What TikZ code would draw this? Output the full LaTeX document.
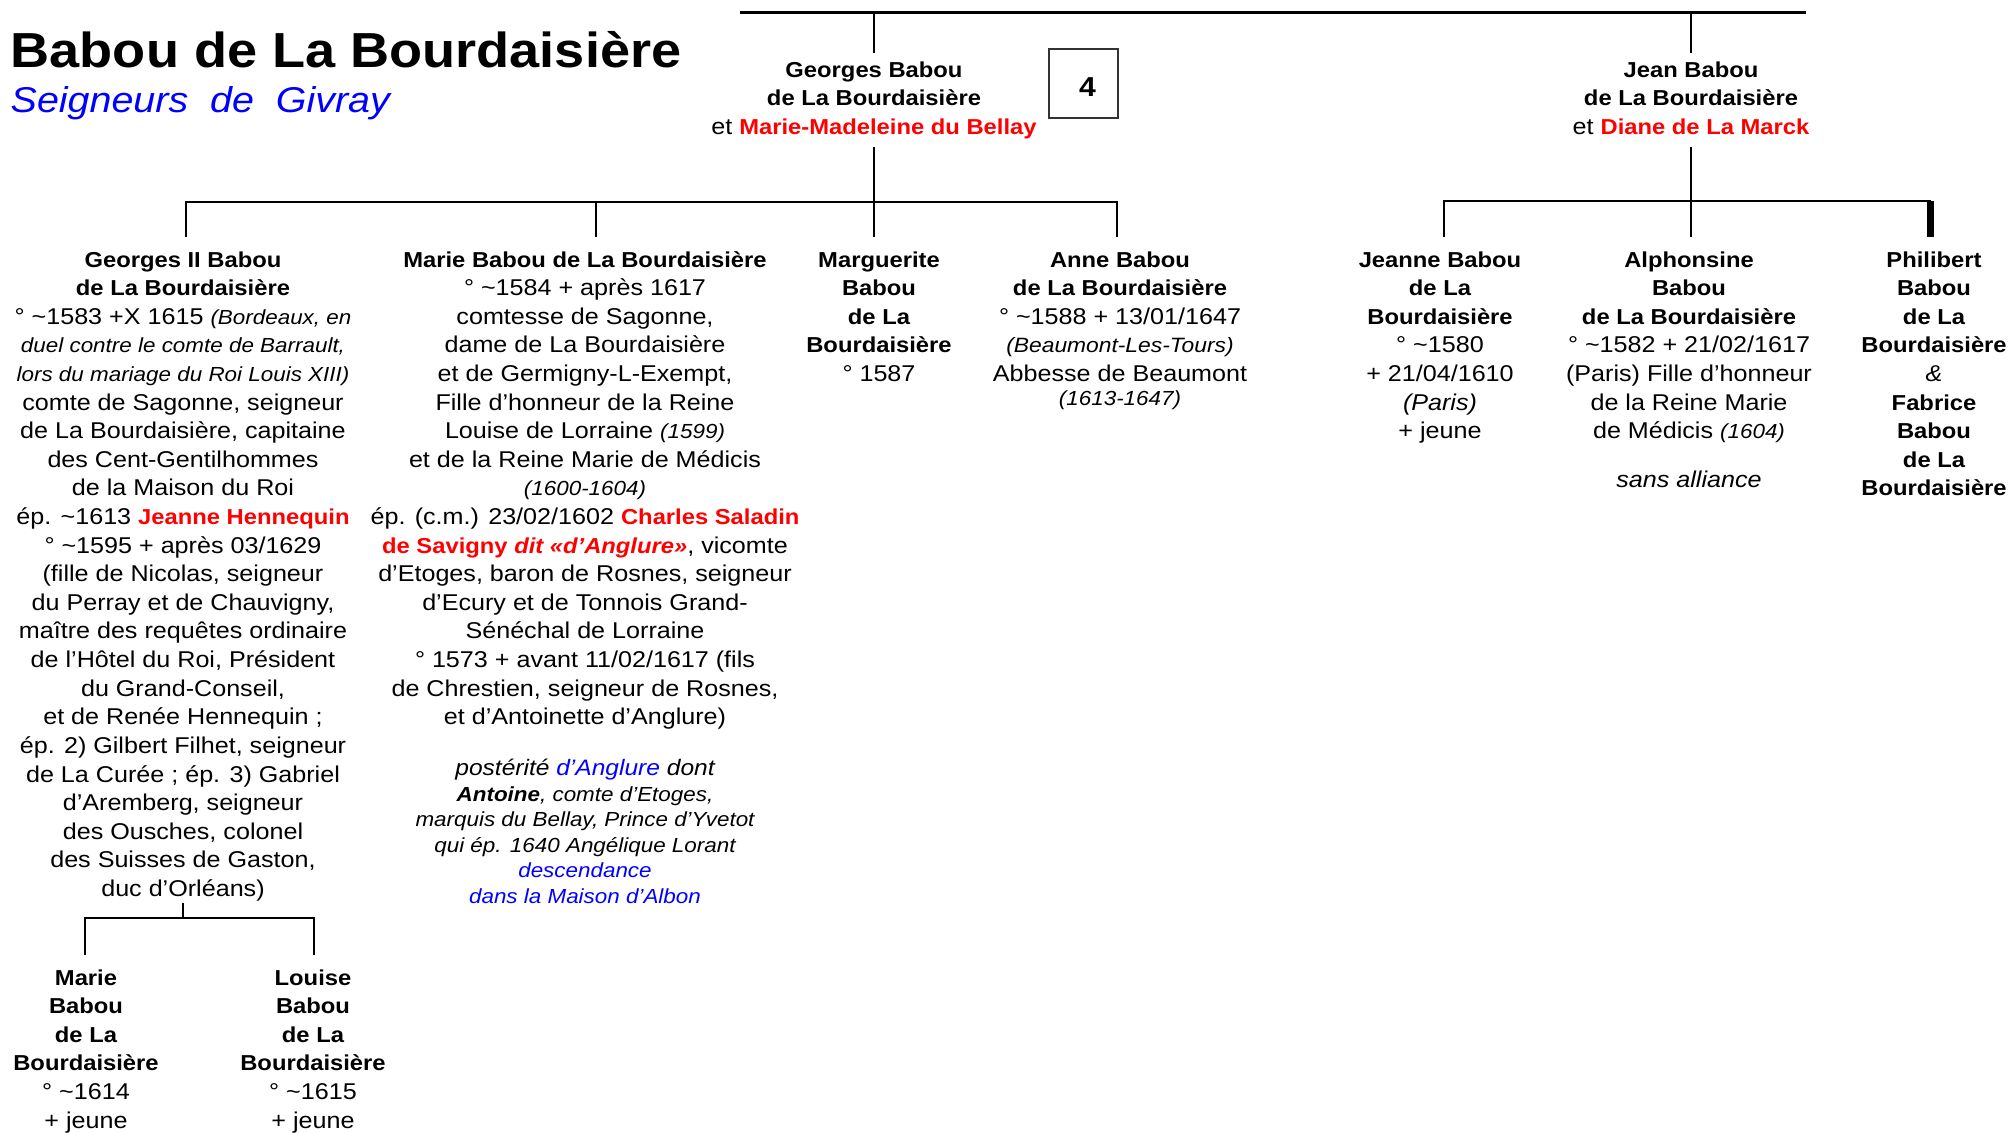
\documentclass[tikz,border=0pt]{standalone}
\usepackage{fontspec}
\setmainfont{Liberation Sans}[FakeStretch=1.1]
\usepackage{tikz}
\usetikzlibrary{positioning}

\definecolor{rouge}{RGB}{255,0,0}
\definecolor{bleu}{RGB}{0,0,255}

\newcommand\corps{\fontsize{6.5pt}{8.14pt}\selectfont}
\newcommand\suite{\fontsize{5.8pt}{7.28pt}\selectfont\itshape}
\newcommand\titre{\fontsize{14pt}{16pt}\selectfont\bfseries}
\newcommand\soustitre{\fontsize{10.2pt}{12pt}\selectfont\itshape}
\newcommand\numero{\fontsize{7.8pt}{8pt}\selectfont\bfseries}
\newcommand\nom[1]{{\fontsize{6.15pt}{8.14pt}\selectfont\bfseries #1}}
\newcommand\epouse[1]{{\fontsize{6.15pt}{8.14pt}\selectfont\bfseries\color{rouge}#1}}
\newcommand\remarque[1]{{\fontsize{5.8pt}{8.14pt}\selectfont\itshape #1}}

\begin{document}
\begin{tikzpicture}[x=0.1mm,y=-0.1mm,
    trait/.style={line width=0.27mm},
    texte/.style={align=center,inner sep=0pt,anchor=north,font=\corps},
    parent/.style={texte,outer ysep=0.4mm},
    enfant/.style={texte,outer ysep=1mm}]
    \useasboundingbox (0,0) rectangle (2010,1132);

    % titre
    \node[anchor=base west,inner sep=0pt,font=\titre] (titre) at (10,67) {Babou de La Bourdaisière};
    \node[anchor=base west,inner sep=0pt,font=\soustitre,text=bleu] (soustitre) at (10,112) {Seigneurs\ \ de\ \ Givray};

    % parents
    \node[parent] (georges) at (874,53) {\strut\nom{Georges Babou}\\
        \nom{de La Bourdaisière}\\
        et \epouse{Marie-Madeleine du Bellay}\strut};
    \node[parent] (jean) at (1691,53) {\strut\nom{Jean Babou}\\
        \nom{de La Bourdaisière}\\
        et \epouse{Diane de La Marck}\strut};
    \node[draw=black!80,line width=0.12mm,minimum width=6.9mm,minimum height=6.9mm,inner sep=0pt] (numero) at (1083.5,83.5) {};
    \node[inner sep=0pt,font=\numero] (chiffre) at ([xshift=0.4mm,yshift=-0.4mm]numero.center) {4};

    % enfants de Georges
    \node[enfant] (georges2) at (183,237) {\strut\nom{Georges II Babou}\\
        \nom{de La Bourdaisière}\\
        ° \textasciitilde1583 +X 1615 \remarque{(Bordeaux, en}\\
        \remarque{duel contre le comte de Barrault,}\\
        \remarque{lors du mariage du Roi Louis XIII)}\\
        comte de Sagonne, seigneur\\
        de La Bourdaisière, capitaine\\
        des Cent-Gentilhommes\\
        de la Maison du Roi\\
        ép. \textasciitilde1613 \epouse{Jeanne Hennequin}\\
        ° \textasciitilde1595 + après 03/1629\\
        (fille de Nicolas, seigneur\\
        du Perray et de Chauvigny,\\
        maître des requêtes ordinaire\\
        de l'Hôtel du Roi, Président\\
        du Grand-Conseil,\\
        et de Renée Hennequin ;\\
        ép. 2) Gilbert Filhet, seigneur\\
        de La Curée ; ép. 3) Gabriel\\
        d'Aremberg, seigneur\\
        des Ousches, colonel\\
        des Suisses de Gaston,\\
        duc d'Orléans)\strut};
    \node[enfant] (marie) at (585,237) {\strut\nom{Marie Babou de La Bourdaisière}\\
        ° \textasciitilde1584 + après 1617\\
        comtesse de Sagonne,\\
        dame de La Bourdaisière\\
        et de Germigny-L-Exempt,\\
        Fille d'honneur de la Reine\\
        Louise de Lorraine \remarque{(1599)}\\
        et de la Reine Marie de Médicis\\
        \remarque{(1600-1604)}\\
        ép. (c.m.) 23/02/1602 \epouse{Charles Saladin}\\
        \epouse{de Savigny \textit{dit «d'Anglure»}}, vicomte\\
        d'Etoges, baron de Rosnes, seigneur\\
        d'Ecury et de Tonnois Grand-\\
        Sénéchal de Lorraine\\
        ° 1573 + avant 11/02/1617 (fils\\
        de Chrestien, seigneur de Rosnes,\\
        et d'Antoinette d'Anglure)};
    \node[texte,font=\suite] (posterite) at (585,757) {\strut{\fontsize{6.35pt}{7.28pt}\selectfont postérité \textcolor{bleu}{d'Anglure} dont}\\
        {\bfseries Antoine}, comte d'Etoges,\\
        marquis du Bellay, Prince d'Yvetot\\
        qui ép. 1640 Angélique Lorant\\
        \textcolor{bleu}{descendance}\\
        \textcolor{bleu}{dans la Maison d'Albon}};
    \node[enfant] (marguerite) at (879,237) {\strut\nom{Marguerite}\\
        \nom{Babou}\\
        \nom{de La}\\
        \nom{Bourdaisière}\\
        ° 1587};
    \node[enfant] (anne) at (1120,237) {\strut\nom{Anne Babou}\\
        \nom{de La Bourdaisière}\\
        ° \textasciitilde1588 + 13/01/1647\\
        {\fontsize{5.9pt}{8.14pt}\selectfont\itshape (Beaumont-Les-Tours)}\\
        Abbesse de Beaumont\\[-1.3pt]
        {\fontsize{5.8pt}{8.14pt}\selectfont\itshape (1613-1647)}};

    % enfants de Jean
    \node[enfant] (jeanne) at (1440,237) {\strut\nom{Jeanne Babou}\\
        \nom{de La}\\
        \nom{Bourdaisière}\\
        ° \textasciitilde1580\\
        + 21/04/1610\\
        {\itshape (Paris)}\\
        + jeune};
    \node[enfant] (alphonsine) at (1689,237) {\strut\nom{Alphonsine}\\
        \nom{Babou}\\
        \nom{de La Bourdaisière}\\
        ° \textasciitilde1582 + 21/02/1617\\
        (Paris) Fille d'honneur\\
        de la Reine Marie\\
        de Médicis \remarque{(1604)}\\[5.7pt]
        {\itshape sans alliance}};
    \node[enfant] (philibert) at (1934,237) {\strut\nom{Philibert}\\
        \nom{Babou}\\
        \nom{de La}\\
        \nom{Bourdaisière}\\
        {\itshape\&}\\
        \nom{Fabrice}\\
        \nom{Babou}\\
        \nom{de La}\\
        \nom{Bourdaisière}};

    % filles de Georges II
    \node[enfant] (mariebis) at (86,955) {\strut\nom{Marie}\\
        \nom{Babou}\\
        \nom{de La}\\
        \nom{Bourdaisière}\\
        ° \textasciitilde1614\\
        + jeune};
    \node[enfant] (louise) at (313,955) {\strut\nom{Louise}\\
        \nom{Babou}\\
        \nom{de La}\\
        \nom{Bourdaisière}\\
        ° \textasciitilde1615\\
        + jeune};

    % liens
    \coordinate (hautg) at (740,12.5);
    \coordinate (hautd) at (1806,12.5);
    \draw[trait] (hautg) -- (hautd);
    \draw[trait] (georges.north |- hautg) -- (georges.north);
    \draw[trait] (jean.north |- hautg) -- (jean.north);

    \coordinate (fratg) at (186,202);
    \coordinate (fratm) at (596,202);
    \coordinate (fratd) at (1117,202);
    \draw[trait] (fratg |- georges2.north) -- (fratg) -- (fratd) -- (fratd |- anne.north);
    \draw[trait] (fratm) -- (fratm |- marie.north);
    \draw[trait] (georges.south) -- (georges.south |- marguerite.north);

    \coordinate (jfratg) at (1444,201);
    \coordinate (jfratd) at (1930.5,201);
    \draw[trait] (jfratg |- jeanne.north) -- (jfratg) -- (jfratd);
    \draw[trait] (jean.south) -- (jean.south |- alphonsine.north);
    \draw[line width=0.7mm] (jfratd) -- (jfratd |- philibert.north);

    \coordinate (fillesg) at (85,918);
    \coordinate (fillesd) at (314,918);
    \draw[trait] (fillesg |- mariebis.north) -- (fillesg) -- (fillesd) -- (fillesd |- louise.north);
    \draw[trait] ([yshift=1.2mm]georges2.south) -- (georges2.south |- fillesg);
\end{tikzpicture}
\end{document}
